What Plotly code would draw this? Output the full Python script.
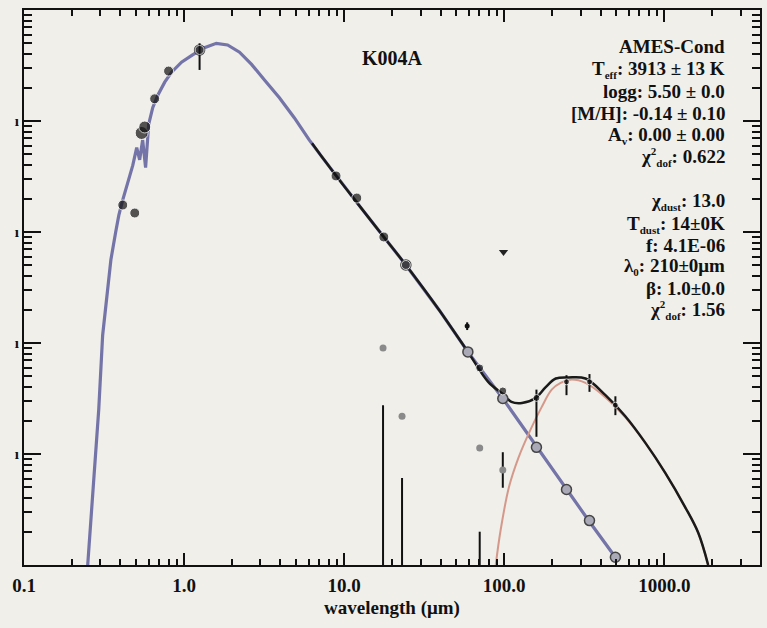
import plotly.graph_objects as go

# ---------------- data ----------------
# stellar photosphere model (AMES-Cond), wavelength [um] and log10 flux
star_wl = [0.25, 0.265, 0.281, 0.293, 0.310, 0.329, 0.349, 0.374, 0.391, 0.414, 0.445,
           0.478, 0.506, 0.528, 0.551, 0.575, 0.601, 0.637, 0.684, 0.757, 0.836, 0.964,
           1.13, 1.34, 1.59, 1.87, 2.22, 2.64, 3.18, 3.94, 4.88, 6.05, 7.50, 9.31, 12.4,
           17.7, 24.3, 39.1, 59.3, 98.0, 159.0, 245.0, 341.0, 495.0]
star_logf = [-14.0, -13.50, -13.01, -12.60, -11.93, -11.61, -11.25, -11.00, -10.85, -10.71,
             -10.55, -10.40, -10.24, -10.35, -10.17, -10.42, -10.03, -9.88, -9.77, -9.65,
             -9.56, -9.47, -9.405, -9.34, -9.30, -9.315, -9.38, -9.49, -9.63, -9.79, -9.97,
             -10.17, -10.35, -10.53, -10.76, -11.045, -11.297, -11.70, -12.08, -12.50,
             -12.93, -13.32, -13.61, -13.93]

# dust modified blackbody model
dust_wl = [88.5, 95, 107, 123, 146, 171, 198, 225, 260, 322, 429, 571, 762, 1014, 1352, 1630, 1880]
dust_logf = [-14.0, -13.685, -13.30, -13.03, -12.78, -12.58, -12.42, -12.36, -12.33, -12.36,
             -12.49, -12.67, -12.90, -13.17, -13.48, -13.71, -14.0]

# total model (star + dust)
total_wl = [6.3, 7.5, 9.31, 12.4, 17.7, 24.3, 39.1, 59.3, 79.4, 98, 111, 129, 157, 181, 210, 252,
            322, 429, 571, 762, 1014, 1352, 1630, 1880]
total_logf = [-10.20, -10.35, -10.53, -10.76, -11.045, -11.297, -11.70, -12.08, -12.35, -12.46, -12.53,
              -12.54, -12.495, -12.40, -12.32, -12.31, -12.32, -12.47, -12.66, -12.90, -13.17,
              -13.48, -13.71, -14.0]

# observed photometry (fitted)
obs_wl = [0.414, 0.492, 0.543, 0.568, 0.655, 0.800, 1.25, 8.9, 12.0, 17.7, 24.3, 70.3, 98,
          159, 245, 341, 495]
obs_logf = [-10.757, -10.829, -10.108, -10.054, -9.80, -9.55, -9.36, -10.495, -10.694,
            -11.045, -11.297, -12.225, -12.432, -12.495, -12.35, -12.35, -12.56]
obs_err_hi = [0, 0, 0, 0, 0, 0, 0.06, 0, 0, 0, 0, 0, 0, 0.075, 0.06, 0.07, 0.08]
obs_err_lo = [0, 0, 0, 0, 0, 0, 0.18, 0, 0, 0, 0, 0, 0, 0.35, 0.12, 0.09, 0.09]
obs_size = [10, 10, 13, 12, 10, 10, 9, 10, 10, 10, 9, 8, 8, 7, 6, 6, 6]

# model photometry (synthetic)
mod_wl = [1.25, 24.3, 59.3, 98, 159, 245, 341, 495]
mod_logf = [-9.36, -11.297, -12.08, -12.50, -12.94, -13.32, -13.60, -13.93]

# unused photometry (grey)
grey_wl = [17.5, 23.0, 70.3, 98]
grey_logf = [-12.045, -12.66, -12.946, -13.144]
grey_err = [0, 0, 0, 0.16]

# extra points
extra_wl = [58.7]
extra_logf = [-11.847]
uplim_wl = [99]
uplim_logf = [-11.18]

# vertical bars (fluxes extending to zero)
bar_wl = [17.5, 23.0, 70.3]
bar_top_logf = [-12.56, -13.216, -13.70]
bar_bottom_logf = -15.0

x_tickvals = [0.1, 1, 10, 100, 1000]
x_ticktext = ["0.1", "1.0", "10.0", "100.0", "1000.0"]
y_tickvals = [1e-13, 1e-12, 1e-11, 1e-10]

S = "<span style='font-size:11px'>{}</span>"
def sub(t):
    return "<sub>" + S.format(t) + "</sub>"
def sup(t):
    return "<sup>" + S.format(t) + "</sup>"

info_lines_1 = ["AMES-Cond", "T" + sub("eff") + ": 3913 ± 13 K", "logg: 5.50 ± 0.0",
                "[M/H]: -0.14 ± 0.10", "A" + sub("v") + ": 0.00 ± 0.00",
                "χ" + sup("2") + sub("dof") + ": 0.622"]
info_lines_2 = ["χ" + sub("dust") + ": 13.0", "T" + sub("dust") + ": 14±0K",
                "f: 4.1E-06", "λ" + sub("0") + ": 210±0μm", "β: 1.0±0.0",
                "χ" + sup("2") + sub("dof") + ": 1.56"]

# ---------------- figure ----------------
p10 = lambda arr: [10 ** v for v in arr]
BG = "#f0efea"
FONT = "Liberation Serif"

fig = go.Figure()

for wl, top in zip(bar_wl, bar_top_logf):
    fig.add_trace(go.Scatter(x=[wl, wl], y=[10 ** top, 10 ** bar_bottom_logf], mode="lines",
                             line=dict(color="#111111", width=2), hoverinfo="skip"))

fig.add_trace(go.Scatter(x=star_wl, y=p10(star_logf), mode="lines",
                         line=dict(color="#7474a8", width=3.2)))
fig.add_trace(go.Scatter(x=dust_wl, y=p10(dust_logf), mode="lines", line_shape="spline",
                         line=dict(color="#d4998a", width=2)))
fig.add_trace(go.Scatter(x=total_wl, y=p10(total_logf), mode="lines", line_shape="spline",
                         line=dict(color="#1a1a1a", width=2.5)))

fig.add_trace(go.Scatter(x=mod_wl, y=p10(mod_logf), mode="markers",
                         marker=dict(size=10, color="#a9a9b8", line=dict(color="#444444", width=1.5))))

fig.add_trace(go.Scatter(x=grey_wl, y=p10(grey_logf), mode="markers",
                         error_y=dict(type="data", symmetric=False,
                                      array=[10 ** (v + e) - 10 ** v for v, e in zip(grey_logf, grey_err)],
                                      arrayminus=[10 ** v - 10 ** (v - e) for v, e in zip(grey_logf, grey_err)],
                                      color="#111111", thickness=2, width=0),
                         marker=dict(size=7, color="#8a8a8a")))

fig.add_trace(go.Scatter(x=obs_wl, y=p10(obs_logf), mode="markers",
                         error_y=dict(type="data", symmetric=False,
                                      array=[10 ** (v + e) - 10 ** v for v, e in zip(obs_logf, obs_err_hi)],
                                      arrayminus=[10 ** v - 10 ** (v - e) for v, e in zip(obs_logf, obs_err_lo)],
                                      color="#111111", thickness=2, width=0),
                         marker=dict(size=obs_size, color="#111111")))

fig.add_trace(go.Scatter(x=extra_wl, y=p10(extra_logf), mode="markers",
                         error_y=dict(type="percent", value=8, color="#111111", thickness=2, width=0),
                         marker=dict(size=5, color="#111111")))
fig.add_trace(go.Scatter(x=uplim_wl, y=p10(uplim_logf), mode="markers",
                         marker=dict(size=8, color="#222222", symbol="triangle-down")))

# annotations
def ypaper(py):
    return 1 - (py - 10) / 555.0

XR = (729 - 24) / 738.0
fig.add_annotation(x=(393 - 24) / 738.0, y=ypaper(58), xref="paper", yref="paper", yanchor="middle",
                   text="<b>K004A</b>", showarrow=False, font=dict(family=FONT, size=20, color="#111"))
ys1 = [47, 69, 91, 113, 135, 157]
ys2 = [201, 224, 245, 267, 288, 310]
for t, yy in zip(info_lines_1, ys1):
    fig.add_annotation(x=XR, y=ypaper(yy), xref="paper", yref="paper", xanchor="right", yanchor="middle",
                       text=t, showarrow=False, font=dict(family=FONT, size=19, color="#111", weight="bold"))
for t, yy in zip(info_lines_2, ys2):
    fig.add_annotation(x=XR, y=ypaper(yy), xref="paper", yref="paper", xanchor="right", yanchor="middle",
                       text=t, showarrow=False, font=dict(family=FONT, size=19, color="#111", weight="bold"))

fig.update_layout(
    width=767, height=628, showlegend=False,
    paper_bgcolor=BG, plot_bgcolor=BG,
    margin=dict(l=24, r=5, t=10, b=63),
    font=dict(family=FONT, color="#111111"),
)
fig.update_xaxes(type="log", range=[-1, 3.598], showgrid=False, zeroline=False,
                 showline=True, linecolor="#111", linewidth=2, mirror="ticks",
                 ticks="inside", ticklen=12, tickwidth=2, tickcolor="#111",
                 tickvals=x_tickvals, ticktext=x_ticktext,
                 tickfont=dict(family=FONT, size=19, weight="bold"), ticklabelstandoff=2,
                 minor=dict(ticks="inside", ticklen=6, tickwidth=1.5, tickcolor="#111", dtick="D1", showgrid=False),
                 title=dict(text="wavelength (μm)", font=dict(family=FONT, size=19, weight="bold"), standoff=6))
fig.update_yaxes(type="log", range=[-14, -9], showgrid=False, zeroline=False,
                 showline=True, linecolor="#111", linewidth=2, mirror="ticks",
                 ticks="inside", ticklen=17, tickwidth=2, tickcolor="#111",
                 tickvals=y_tickvals, ticktext=["ı"] * len(y_tickvals),
                 tickfont=dict(family=FONT, size=15, weight="bold"),
                 minor=dict(ticks="inside", ticklen=8, tickwidth=1.5, tickcolor="#111", dtick="D1", showgrid=False))

fig.write_html("out.html")
